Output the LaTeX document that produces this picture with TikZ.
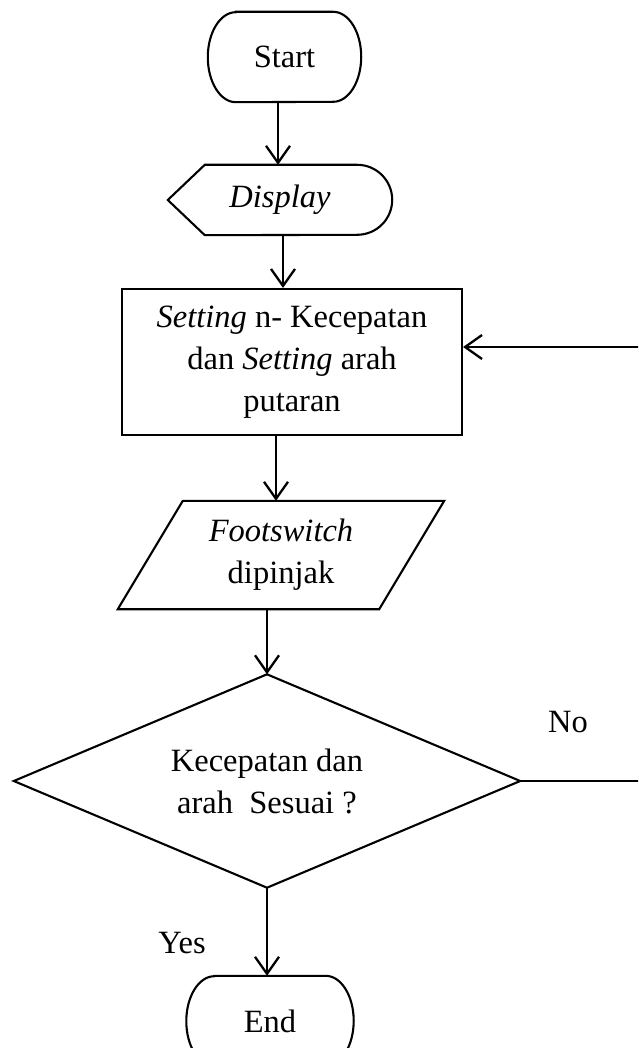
\documentclass[tikz,border=0pt]{standalone}
\usepackage{fontspec}
\setmainfont{Liberation Serif}
\usetikzlibrary{arrows.meta}
\begin{document}
\begin{tikzpicture}[x=1pt,y=1pt,
  every node/.style={font=\fontsize{32.5}{42}\selectfont, align=center, inner sep=0pt},
  shp/.style={line width=2.1pt, line join=miter},
  ln/.style={line width=2.3pt},
  arr/.style={line width=2.3pt, -{Straight Barb[length=17pt,width=24pt,line width=2.3pt]}}]
\useasboundingbox (0,0) rectangle (638,-1048);
\clip (0,0) rectangle (638,-1048);
% Start
\node[minimum width=153, minimum height=90] (start) at (284.5,-57) {Start};
\draw[shp] ([xshift=28]start.north west) -- ([xshift=-28]start.north east)
  arc[start angle=90, end angle=-90, x radius=28, y radius=45]
  -- ([xshift=28]start.south west)
  arc[start angle=270, end angle=90, x radius=28, y radius=45] -- cycle;
% Display
\node[minimum width=224, minimum height=70] (disp) at (280,-200) {\textit{Display}};
\draw[shp] (disp.west) -- ([xshift=37]disp.north west) -- ([xshift=-35]disp.north east)
  arc[start angle=90, end angle=-90, radius=35]
  -- ([xshift=37]disp.south west) -- cycle;
% Setting box
\node[draw, shp, minimum width=340, minimum height=146] (set) at (292,-362)
  {\textit{Setting} n- Kecepatan\\ dan \textit{Setting} arah\\ putaran};
% Footswitch
\node[minimum width=326, minimum height=108] (foot) at (281,-555) {\textit{Footswitch}\\ dipinjak};
\draw[shp] (foot.north east) -- ([xshift=-65]foot.south east) -- (foot.south west)
  -- ([xshift=65]foot.north west) -- cycle;
% Decision
\node[minimum width=506, minimum height=213] (dec) at (267,-781) {Kecepatan dan\\ arah\ \ Sesuai ?};
\draw[shp] (dec.north) -- (dec.east) -- (dec.south) -- (dec.west) -- cycle;
% End
\node[minimum width=167, minimum height=90] (end) at (270,-1021) {End};
\draw[shp] ([xshift=28]end.north west) -- ([xshift=-28]end.north east)
  arc[start angle=90, end angle=-90, x radius=28, y radius=45]
  -- ([xshift=28]end.south west)
  arc[start angle=270, end angle=90, x radius=28, y radius=45] -- cycle;
% labels
\node (no) at (568,-722) {No};
\node (yes) at (182,-943) {Yes};
% connectors
\draw[arr] ([xshift=-6.5]start.south) -- ([xshift=-6.5]start.south |- disp.north);
\draw[arr] ([xshift=3]disp.south) -- ([xshift=3]disp.south |- set.north);
\draw[arr] ([xshift=-16]set.south) -- ([xshift=-16]set.south |- foot.north);
\draw[arr] ([xshift=-14]foot.south) -- (dec.north);
\draw[arr] (dec.south) -- (dec.south |- end.north);
\coordinate (nR) at (640,-781);
\coordinate (fR) at (640,-347);
\draw[ln] (dec.east) -- (nR);
\draw[arr] (fR) -- (fR -| set.east);
\end{tikzpicture}
\end{document}
